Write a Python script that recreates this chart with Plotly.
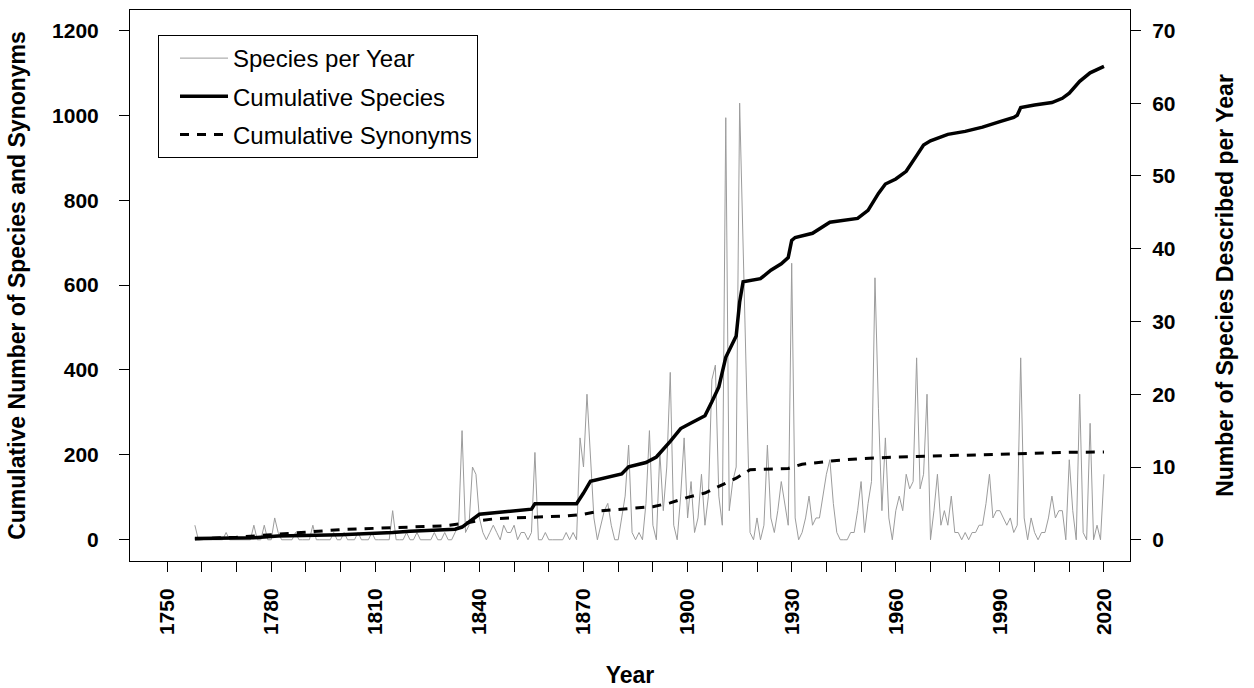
import plotly.graph_objects as go

# ---------------- data ----------------
YEARS = list(range(1758, 2021))

SPECIES_PER_YEAR = [
    2, 0,                                   # 1758-1759
    0, 0, 0, 0, 0, 0, 0, 1, 0, 0,           # 1760s
    0, 0, 0, 0, 0, 2, 0, 0, 2, 0,           # 1770s
    0, 3, 1, 0, 0, 0, 0, 1, 0, 0,           # 1780s
    0, 0, 2, 0, 0, 0, 0, 0, 1, 0,           # 1790s
    0, 1, 0, 0, 0, 1, 0, 0, 0, 1,           # 1800s
    0, 0, 0, 0, 0, 4, 0, 0, 0, 1,           # 1810s
    0, 0, 1, 0, 0, 0, 0, 1, 0, 0,           # 1820s
    1, 0, 0, 1, 2, 15, 1, 2, 10, 9,         # 1830s
    3, 1, 0, 1, 2, 1, 0, 2, 1, 1,           # 1840s
    2, 0, 1, 1, 0, 1, 12, 0, 0, 1,          # 1850s
    0, 0, 0, 0, 0, 1, 0, 1, 0, 14,          # 1860s
    10, 20, 11, 3, 0, 2, 4, 5, 2, 0,        # 1870s
    0, 3, 6, 13, 1, 0, 1, 0, 5, 15,         # 1880s
    2, 0, 12, 4, 10, 23, 2, 0, 6, 14,       # 1890s
    3, 8, 1, 3, 9, 2, 6, 22, 24, 6,         # 1900s
    2, 58, 4, 8, 10, 60, 40, 18, 1, 0,      # 1910s
    3, 0, 2, 13, 3, 1, 4, 8, 5, 2,          # 1920s
    38, 3, 0, 1, 3, 6, 2, 3, 3, 6,          # 1930s
    9, 11, 5, 1, 0, 0, 0, 1, 1, 4,          # 1940s
    8, 1, 5, 8, 36, 18, 4, 14, 3, 0,        # 1950s
    4, 6, 4, 9, 7, 8, 25, 7, 9, 20,         # 1960s
    0, 4, 9, 2, 4, 2, 6, 1, 1, 0,           # 1970s
    1, 0, 1, 1, 2, 2, 5, 9, 3, 4,           # 1980s
    4, 3, 2, 3, 1, 2, 25, 3, 0, 3,          # 1990s
    1, 0, 1, 1, 3, 6, 3, 4, 4, 0,           # 2000s
    11, 4, 0, 20, 1, 0, 16, 0, 2, 0,        # 2010s
    9,                                      # 2020
]

CUM_SPECIES_YEARS = [1758, 1775, 1782, 1800, 1815, 1820, 1833, 1835, 1840, 1855,
                     1856, 1868, 1870, 1872, 1881, 1883, 1888, 1891, 1895, 1898,
                     1901, 1905, 1907, 1909, 1911, 1913, 1914, 1915, 1916, 1921,
                     1924, 1927, 1929, 1930, 1931, 1936, 1941, 1949, 1952, 1955,
                     1957, 1960, 1963, 1966, 1968, 1970, 1975, 1980, 1985, 1990,
                     1994, 1995, 1996, 2000, 2005, 2008, 2010, 2013, 2016, 2020]
CUM_SPECIES = [3, 5, 9, 12, 17, 20, 25, 30, 60, 72,
               85, 85, 110, 138, 155, 172, 182, 195, 232, 262,
               275, 292, 325, 360, 430, 465, 480, 560, 608, 615,
               635, 650, 665, 705, 712, 722, 748, 757, 776, 816,
               838, 850, 868, 905, 930, 940, 955, 962, 972, 985,
               995, 1000, 1018, 1024, 1030, 1040, 1052, 1080, 1100, 1115]

CUM_SYN_YEARS = [1758, 1770, 1780, 1790, 1800, 1810, 1820, 1830, 1835, 1840,
                 1845, 1855, 1865, 1870, 1875, 1885, 1890, 1895, 1900, 1905,
                 1909, 1914, 1918, 1929, 1933, 1943, 1950, 1960, 1970, 1983,
                 1996, 2010, 2020]
CUM_SYN = [2, 6, 12, 18, 24, 27, 30, 33, 38, 45,
           50, 53, 56, 60, 68, 75, 78, 87, 100, 110,
           125, 145, 165, 168, 178, 187, 191, 195, 197, 200,
           204, 206, 207]

X_TICKS = list(range(1750, 2021, 10))
X_TICK_LABELS = [str(v) if (v - 1750) % 30 == 0 else "" for v in X_TICKS]
LEFT_TICKS = [0, 200, 400, 600, 800, 1000, 1200]
RIGHT_TICKS = [0, 10, 20, 30, 40, 50, 60, 70]

# ---------------- figure ----------------
FONT = "Liberation Sans, Arial, Helvetica, sans-serif"
LEFT_RANGE = [-50, 1248]
RIGHT_RANGE = [LEFT_RANGE[0] * 70 / 1200, LEFT_RANGE[1] * 70 / 1200]

fig = go.Figure()
fig.add_trace(go.Scatter(
    x=YEARS, y=SPECIES_PER_YEAR, mode="lines", name="Species per Year",
    line=dict(color="#9c9c9c", width=1), yaxis="y", legendgroup="a",
))
fig.add_trace(go.Scatter(
    x=CUM_SPECIES_YEARS, y=CUM_SPECIES, mode="lines", name="Cumulative Species",
    line=dict(color="black", width=3.5), yaxis="y2", legendgroup="b",
))
fig.add_trace(go.Scatter(
    x=CUM_SYN_YEARS, y=CUM_SYN, mode="lines", name="Cumulative Synonyms",
    line=dict(color="black", width=3, dash="9px,8px"), yaxis="y2", legendgroup="c",
))

axis_common = dict(
    showgrid=False, zeroline=False, showline=True, linecolor="black", linewidth=1,
    ticks="outside", ticklen=10, tickwidth=1, tickcolor="black",
    tickfont=dict(family=FONT, size=21, color="black", weight="bold"),
)

fig.update_layout(
    width=1254, height=688,
    margin=dict(l=130, r=124, t=10, b=127, autoexpand=False),
    paper_bgcolor="white", plot_bgcolor="white",
    font=dict(family=FONT, color="black"),
    xaxis=dict(
        range=[1739.3, 2027.5], tickvals=X_TICKS, ticktext=X_TICK_LABELS,
        tickangle=-90, mirror=True, ticklabelstandoff=8,
        title=dict(text="Year", font=dict(family=FONT, size=23, weight="bold"), standoff=33),
        **axis_common,
    ),
    yaxis=dict(
        range=RIGHT_RANGE, tickvals=RIGHT_TICKS, side="right", ticklabelstandoff=7,
        title=dict(text="Number of Species Described per Year",
                   font=dict(family=FONT, size=23, weight="bold"), standoff=42),
        **axis_common,
    ),
    yaxis2=dict(
        range=LEFT_RANGE, tickvals=LEFT_TICKS, side="left", overlaying="y",
        anchor="x", ticklabelstandoff=16,
        title=dict(text="Cumulative Number of Species and Synonyms",
                   font=dict(family=FONT, size=23, weight="bold"), standoff=20),
        **axis_common,
    ),
    legend=dict(
        x=0.028, y=0.9546, xanchor="left", yanchor="top",
        bordercolor="black", borderwidth=1, bgcolor="white",
        font=dict(family=FONT, size=24, color="black"),
        tracegroupgap=4, traceorder="grouped", itemwidth=48,
        indentation=16,
    ),
    showlegend=True,
)

fig.write_html("out.html", config={"displayModeBar": False},
               post_script="document.body.style.margin='0px';")
